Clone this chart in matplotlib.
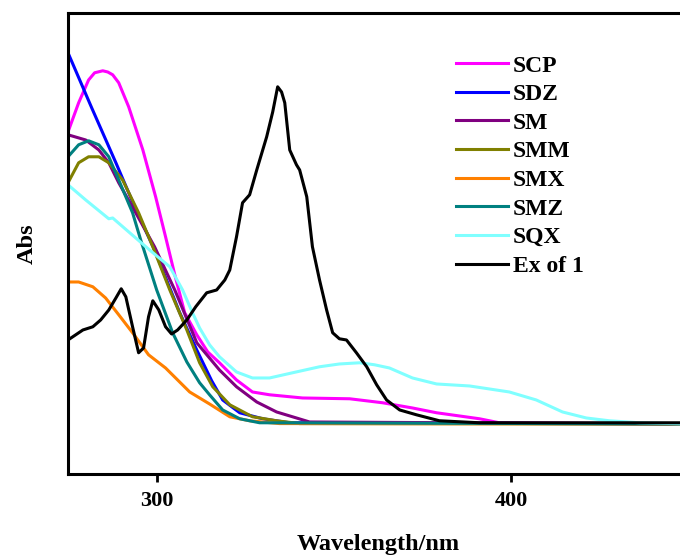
import matplotlib
matplotlib.use("Agg")
import matplotlib.pyplot as plt

plt.rcParams['font.family'] = ['Liberation Serif', 'DejaVu Serif']
plt.rcParams['font.weight'] = 'bold'

# UV-vis spectra (wavelength in nm, absorbance in arbitrary units)
scp_wl = [275, 278.0, 280.8, 282.5, 284.8, 286.2, 287.6, 289.3, 292.1, 296.1, 299.7, 302.5, 305.1, 307.9,
          311.3, 314.4, 317.7, 322.5, 327.0, 331.8, 341.1, 354.4, 363.7, 372.1, 378.9, 391.0, 396.6, 450]
scp_abs = [0.730, 0.803, 0.860, 0.878, 0.883, 0.880, 0.873, 0.853, 0.793, 0.685, 0.568, 0.468, 0.373, 0.278,
           0.223, 0.180, 0.153, 0.110, 0.080, 0.073, 0.065, 0.063, 0.053, 0.040, 0.028, 0.013, 0.003, 0.0]

sdz_wl = [275, 281.7, 288.5, 293.8, 299.4, 306.5, 311.3, 315.5, 318.6, 323.4, 329.9, 337.5, 450]
sdz_abs = [0.928, 0.790, 0.653, 0.543, 0.435, 0.278, 0.185, 0.108, 0.060, 0.028, 0.013, 0.003, 0.0]

sm_wl = [275, 280.0, 283.7, 286.5, 289.3, 294.4, 299.4, 305.1, 311.3, 317.7, 322.5, 328.2, 333.8, 339.4, 343.1, 450]
sm_abs = [0.723, 0.710, 0.685, 0.653, 0.603, 0.523, 0.443, 0.335, 0.203, 0.135, 0.093, 0.055, 0.030, 0.015, 0.005, 0.0]

smm_wl = [275, 278.0, 280.8, 283.7, 286.5, 290.4, 294.9, 298.9, 303.7, 308.5, 312.1, 315.8, 320.6, 327.0,
          333.8, 340.3, 450]
smm_abs = [0.603, 0.653, 0.668, 0.668, 0.653, 0.610, 0.528, 0.443, 0.335, 0.235, 0.153, 0.093, 0.048, 0.018,
           0.008, 0.001, 0.0]

smx_wl = [275, 278.0, 282.0, 285.6, 289.3, 293.2, 297.7, 302.5, 309.3, 314.9, 320.6, 326.2, 334.6, 450]
smx_abs = [0.355, 0.355, 0.343, 0.315, 0.273, 0.228, 0.173, 0.140, 0.080, 0.050, 0.018, 0.008, 0.001, 0.0]

smz_wl = [275, 278.0, 280.8, 283.7, 286.5, 289.3, 293.2, 295.5, 300.0, 304.5, 308.5, 312.1, 314.9, 318.6,
          323.4, 329.0, 450]
smz_abs = [0.668, 0.698, 0.708, 0.698, 0.668, 0.610, 0.528, 0.460, 0.335, 0.228, 0.155, 0.103, 0.073, 0.035,
           0.013, 0.003, 0.0]

sqx_wl = [275, 280.0, 286.5, 287.6, 288.5, 292.4, 298.0, 303.7, 307.3, 310.1, 312.1, 314.9, 317.7, 322.5,
          327.0, 331.8, 338.3, 345.9, 351.5, 357.2, 361.4, 365.6, 372.1, 378.9, 388.2, 399.4, 407.0, 414.4,
          421.1, 427.6, 436.1, 450]
sqx_abs = [0.598, 0.560, 0.513, 0.515, 0.508, 0.478, 0.435, 0.393, 0.335, 0.278, 0.240, 0.198, 0.168, 0.130,
           0.115, 0.115, 0.128, 0.143, 0.150, 0.153, 0.148, 0.140, 0.115, 0.100, 0.095, 0.080, 0.060, 0.030,
           0.015, 0.008, 0.003, 0.0]

ex_wl = [275, 279.2, 282.0, 284.2, 286.5, 288.5, 290.0, 291.3, 293.2, 294.9, 296.3, 297.7, 298.9, 300.6,
         302.5, 304.2, 305.9, 308.5, 311.0, 314.1, 316.9, 319.2, 320.6, 322.5, 324.2, 326.2, 328.2, 331.0,
         332.7, 334.1, 335.2, 336.1, 337.5, 339.4, 340.3, 342.3, 343.9, 345.9, 347.9, 349.6, 351.5, 353.5,
         356.3, 359.2, 362.0, 364.8, 368.5, 373.2, 379.7, 391.0, 450]
ex_abs = [0.210, 0.235, 0.243, 0.260, 0.285, 0.315, 0.338, 0.318, 0.243, 0.178, 0.190, 0.268, 0.308, 0.285,
          0.243, 0.225, 0.235, 0.260, 0.293, 0.328, 0.335, 0.360, 0.385, 0.468, 0.553, 0.573, 0.635, 0.718,
          0.780, 0.843, 0.830, 0.803, 0.685, 0.648, 0.635, 0.568, 0.443, 0.360, 0.285, 0.228, 0.213, 0.210,
          0.178, 0.143, 0.098, 0.060, 0.035, 0.023, 0.008, 0.003, 0.003]

series = [
    ("SCP", scp_wl, scp_abs, "#FF00FF"),
    ("SDZ", sdz_wl, sdz_abs, "#0000FF"),
    ("SM", sm_wl, sm_abs, "#800080"),
    ("SMM", smm_wl, smm_abs, "#808000"),
    ("SMX", smx_wl, smx_abs, "#FF8000"),
    ("SMZ", smz_wl, smz_abs, "#008080"),
    ("SQX", sqx_wl, sqx_abs, "#80FFFF"),
    ("Ex of 1", ex_wl, ex_abs, "#000000"),
]

fig = plt.figure(figsize=(6.8, 5.55), dpi=100)
ax = fig.add_axes([0.1, 0.146, 0.913, 0.8306])

for name, wl, ab, col in series:
    ax.plot(wl, ab, color=col, lw=2.2, label=name, solid_joinstyle='round')

ax.set_xlim(275, 450)
ax.set_ylim(-0.125, 1.0275)
ax.set_xticks([300, 400])
ax.set_yticks([])
ax.tick_params(axis='x', direction='out', length=6, width=2, pad=6, labelsize=16)
for lbl in ax.get_xticklabels():
    lbl.set_fontweight('bold')
for s in ax.spines.values():
    s.set_linewidth(2.2)

ax.set_xlabel('Wavelength/nm', fontsize=17.5, fontweight='bold', labelpad=17)
ax.set_ylabel('Abs', fontsize=17.5, fontweight='bold', labelpad=22)

ax.legend(loc='upper left', bbox_to_anchor=(456 / 680, 1 - 55 / 555), bbox_transform=fig.transFigure,
          frameon=False, handlelength=2.2, handletextpad=0.21, labelspacing=0.3,
          borderpad=0, borderaxespad=0, prop={'weight': 'bold', 'size': 17})

fig.savefig('out.png', dpi=100)
